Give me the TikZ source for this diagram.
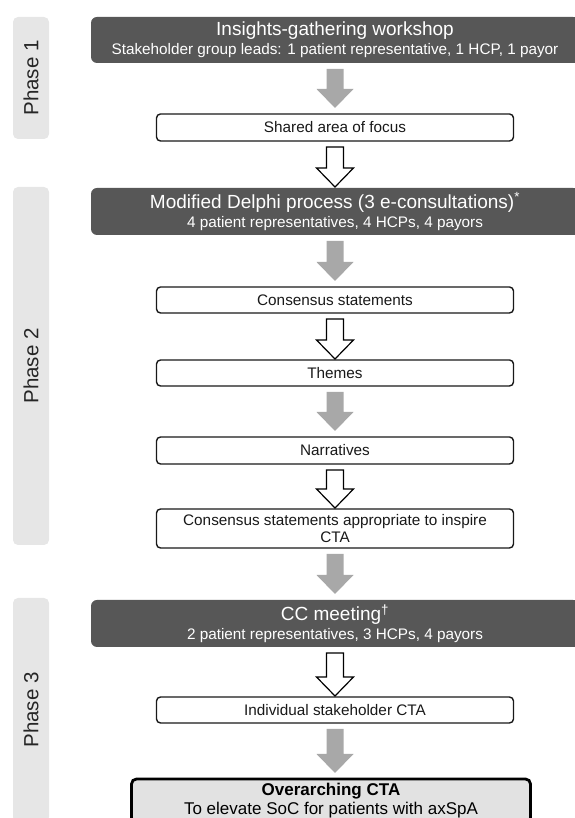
\documentclass[tikz,border=0pt]{standalone}
\usepackage{fontspec}
\setmainfont{Liberation Sans}
\usetikzlibrary{positioning, calc, backgrounds}

\definecolor{boxgray}{HTML}{575757}
\definecolor{arrowgray}{HTML}{A8A8A8}
\definecolor{phasegray}{HTML}{E6E6E6}
\definecolor{finalgray}{HTML}{E2E2E2}

\newcommand{\fsz}[1]{\fontsize{#1}{#1}\selectfont}
% block arrow from one box down to the next
\newcommand{\blockarrow}[4]{%
  \path[#1] let \p1=($(#2.south)+(0,-6pt)$), \p2=($(#3.north)+(0,#4)$) in
    (\x1-8.5pt,\y1) -- (\x1+8.5pt,\y1) -- (\x1+8.5pt,\y2+19pt) -- (\x1+18.5pt,\y2+19pt)
    -- (\x1,\y2) -- (\x1-18.5pt,\y2+19pt) -- (\x1-8.5pt,\y2+19pt) -- cycle;}

\begin{document}
\begin{tikzpicture}[x=1pt, y=1pt,
    every node/.style={inner sep=0pt, outer sep=0pt},
    phasebar/.style={fill=phasegray, rounded corners=5pt, rotate=90, minimum height=36pt, text=black!85, font=\fsz{20.5}},
    darkbox/.style={fill=boxgray, rounded corners=6pt, minimum width=488pt, minimum height=47pt, text=white, align=center, font=\fontsize{15.3}{19}\selectfont},
    stepbox/.style={draw=black!90, line width=1.4pt, rounded corners=4pt, fill=white, minimum width=357pt, minimum height=26pt, align=center, text=black!90, font=\fontsize{15.3}{17}\selectfont},
    finalbox/.style={draw=black, line width=2.8pt, rounded corners=5pt, fill=finalgray, minimum width=399pt, minimum height=44pt, align=center, font=\fontsize{17}{19}\selectfont},
    grayarrow/.style={fill=arrowgray},
    whitearrow/.style={draw=black, fill=white, line width=1.2pt}]
    \useasboundingbox (0,0) rectangle (574,818);

    % phases
    \node[phasebar, minimum width=122pt] (phase1) at (31,740) {Phase 1};
    \node[phasebar, minimum width=358pt] (phase2) at (31,452) {Phase 2};
    \node[phasebar, minimum width=224pt] (phase3) at (31,108) {Phase 3};

    % flow
    \node[darkbox, minimum height=46pt] (insights) at (335,778) {{\fsz{19}Insights-gathering workshop}\\Stakeholder group leads: 1 patient representative, 1 HCP, 1 payor};
    \node[stepbox, minimum height=27pt, below=51pt of insights] (shared) {Shared area of focus};
    \node[darkbox, below=47pt of shared] (delphi) {{\fsz{19}Modified Delphi process (3 e-consultations)\textsuperscript{*}}\\4 patient representatives, 4 HCPs, 4 payors};
    \node[stepbox, below=52pt of delphi] (consensus) {Consensus statements};
    \node[stepbox, below=47pt of consensus] (themes) {Themes};
    \node[stepbox, minimum height=27pt, below=51pt of themes] (narratives) {Narratives};
    \node[stepbox, minimum height=39pt, below=45pt of narratives] (inspire) {Consensus statements appropriate to inspire\\CTA};
    \node[darkbox, below=52pt of inspire] (cc) {{\fsz{19}CC meeting\textsuperscript{†}}\\2 patient representatives, 3 HCPs, 4 payors};
    \node[stepbox, below=50pt of cc] (individual) {Individual stakeholder CTA};
    \node[finalbox, below=56pt of individual, xshift=-4pt] (overall) {{\bfseries Overarching CTA}\\To elevate SoC for patients with axSpA};

    % dark boxes run past the right edge
    \begin{scope}[on background layer]
    \foreach \b in {insights, delphi, cc}
        \fill[boxgray] (\b.north) rectangle ($(\b.south east)+(40pt,0)$);
    \end{scope}

    \blockarrow{grayarrow}{insights}{shared}{6pt}
    \blockarrow{whitearrow}{shared}{delphi}{1pt}
    \blockarrow{grayarrow}{delphi}{consensus}{6pt}
    \blockarrow{whitearrow}{consensus}{themes}{1pt}
    \blockarrow{grayarrow}{themes}{narratives}{6pt}
    \blockarrow{whitearrow}{narratives}{inspire}{1pt}
    \blockarrow{grayarrow}{inspire}{cc}{6pt}
    \blockarrow{whitearrow}{cc}{individual}{1pt}
    \blockarrow{grayarrow}{individual}{overall}{6pt}
\end{tikzpicture}
\end{document}
